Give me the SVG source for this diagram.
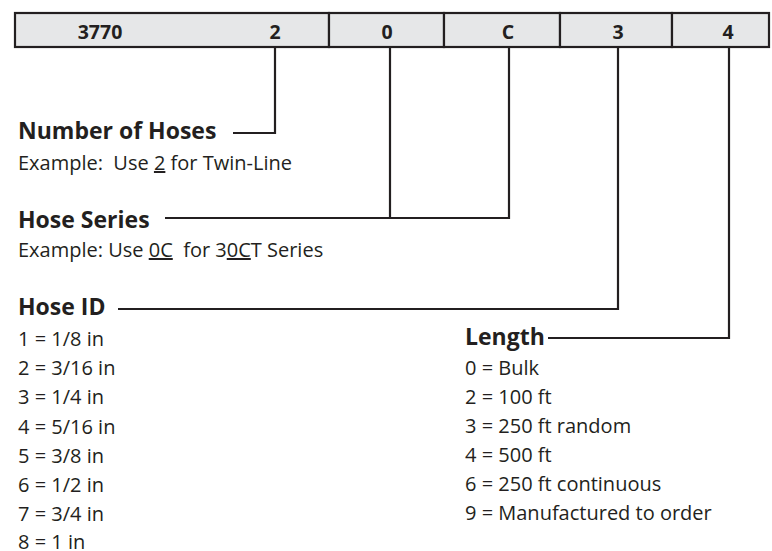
<svg xmlns="http://www.w3.org/2000/svg" width="772" height="551" viewBox="0 0 772 551">
<style>
text{font-family:"Open Sans","Noto Sans","Liberation Sans",sans-serif;fill:#231f20;white-space:pre}
.cell{fill:#e6e7e8;stroke:#231f20;stroke-width:2.2}
.lbl{font-size:19.5px;font-weight:bold;text-anchor:middle}
.h{font-size:23px;font-weight:bold}
.t{font-size:20px}
.u{text-decoration:underline}
.con{fill:none;stroke:#231f20;stroke-width:2.2}
</style>
<rect width="772" height="551" fill="#fff"/>
<g id="code-bar">
<g id="cell-3770-2"><rect class="cell" x="15" y="13" width="314" height="34"/><text class="lbl" x="100" y="39">3770</text><text class="lbl" x="275" y="39">2</text></g>
<g id="cell-0"><rect class="cell" x="329" y="13" width="115" height="34"/><text class="lbl" x="387" y="39">0</text></g>
<g id="cell-C"><rect class="cell" x="444" y="13" width="116" height="34"/><text class="lbl" x="508" y="39">C</text></g>
<g id="cell-3"><rect class="cell" x="560" y="13" width="112" height="34"/><text class="lbl" x="618" y="39">3</text></g>
<g id="cell-4"><rect class="cell" x="672" y="13" width="97" height="34"/><text class="lbl" x="728" y="39">4</text></g>
</g>
<g id="connectors">
<polyline class="con" points="275,48 275,133 233,133"/>
<polyline class="con" points="390,48 390,218"/>
<polyline class="con" points="509,48 509,218 165,218"/>
<polyline class="con" points="618,48 618,309 118,309"/>
<polyline class="con" points="729,48 729,338 548,338"/>
</g>
<g id="number-of-hoses">
<text class="h" x="18" y="139">Number of Hoses</text>
<text class="t" x="18" y="170">Example:  Use <tspan class="u">2</tspan> for Twin-Line</text>
</g>
<g id="hose-series">
<text class="h" x="18" y="228">Hose Series</text>
<text class="t" x="18" y="257">Example: Use <tspan class="u">0C</tspan>  for 3<tspan class="u">0C</tspan>T Series</text>
</g>
<g id="hose-id">
<text class="h" x="18" y="315">Hose ID</text>
<text class="t" x="18" y="346">1 = 1/8 in</text>
<text class="t" x="18" y="375">2 = 3/16 in</text>
<text class="t" x="18" y="404">3 = 1/4 in</text>
<text class="t" x="18" y="434">4 = 5/16 in</text>
<text class="t" x="18" y="463">5 = 3/8 in</text>
<text class="t" x="18" y="492">6 = 1/2 in</text>
<text class="t" x="18" y="521">7 = 3/4 in</text>
<text class="t" x="18" y="549">8 = 1 in</text>
</g>
<g id="length">
<text class="h" x="465" y="345">Length</text>
<text class="t" x="465" y="375">0 = Bulk</text>
<text class="t" x="465" y="404">2 = 100 ft</text>
<text class="t" x="465" y="433">3 = 250 ft random</text>
<text class="t" x="465" y="462">4 = 500 ft</text>
<text class="t" x="465" y="491">6 = 250 ft continuous</text>
<text class="t" x="465" y="520">9 = Manufactured to order</text>
</g>
</svg>
